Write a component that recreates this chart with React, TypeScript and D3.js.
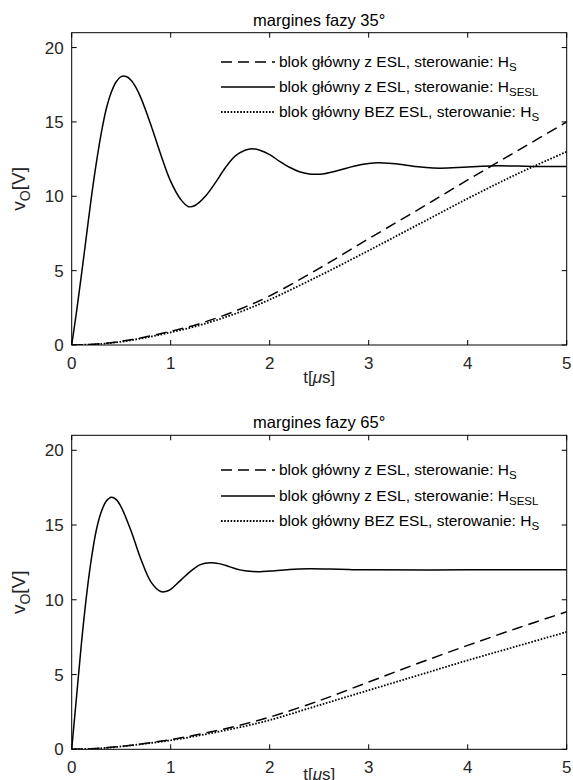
import React from "react";
import * as d3 from "d3";

// ---------- data ----------
const X_TICKS = [0, 1, 2, 3, 4, 5];
const Y_TICKS = [0, 5, 10, 15, 20];
const TITLES = ["margines fazy 35°", "margines fazy 65°"];
const LEGEND_LABELS = [
  { text: "blok główny z ESL, sterowanie: H", sub: "S" },
  { text: "blok główny z ESL, sterowanie: H", sub: "SESL" },
  { text: "blok główny BEZ ESL, sterowanie: H", sub: "S" },
];

// 35° panel
const T_SOLID_35 = [0, 0.05, 0.1, 0.15, 0.2, 0.25, 0.3, 0.35, 0.4, 0.45, 0.5, 0.55, 0.6, 0.65, 0.7, 0.8, 0.9, 1.0, 1.1, 1.18, 1.25, 1.35, 1.45, 1.55, 1.65, 1.75, 1.82, 1.9, 2.0, 2.1, 2.2, 2.3, 2.4, 2.47, 2.55, 2.7, 2.85, 3.0, 3.1, 3.2, 3.35, 3.5, 3.65, 3.8, 3.95, 4.1, 4.3, 4.5, 4.75, 5.0];
const V_SOLID_35 = [0, 2.3, 4.8, 7.4, 10.0, 12.3, 14.3, 15.9, 17.0, 17.7, 18.05, 18.05, 17.8, 17.3, 16.6, 14.8, 12.8, 11.0, 9.8, 9.3, 9.4, 10.0, 10.9, 11.9, 12.7, 13.1, 13.2, 13.1, 12.8, 12.35, 11.95, 11.65, 11.5, 11.48, 11.52, 11.75, 12.02, 12.2, 12.25, 12.22, 12.12, 11.98, 11.9, 11.9, 11.95, 12.0, 12.05, 12.03, 12.0, 12.0];
const T_RAMP = [0, 0.25, 0.5, 0.75, 1, 1.25, 1.5, 1.75, 2, 2.5, 3, 3.5, 4, 4.5, 5];
const V_DASHED_35 = [0, 0.06, 0.25, 0.55, 0.92, 1.35, 1.9, 2.55, 3.3, 5.15, 7.15, 9.1, 11.1, 13.05, 15.0];
const V_DOTTED_35 = [0, 0.05, 0.22, 0.5, 0.85, 1.25, 1.75, 2.35, 3.05, 4.65, 6.35, 8.1, 9.85, 11.5, 13.0];

// 65° panel
const T_SOLID_65 = [0, 0.05, 0.1, 0.15, 0.2, 0.25, 0.3, 0.35, 0.4, 0.45, 0.5, 0.6, 0.7, 0.8, 0.9, 0.95, 1.0, 1.1, 1.2, 1.3, 1.4, 1.5, 1.6, 1.7, 1.8, 1.9, 2.0, 2.2, 2.4, 2.6, 2.8, 3.0, 4.0, 5.0];
const V_SOLID_65 = [0, 3.6, 7.2, 10.3, 12.8, 14.7, 15.9, 16.6, 16.85, 16.7, 16.2, 14.6, 12.7, 11.2, 10.55, 10.55, 10.7, 11.3, 11.9, 12.35, 12.48, 12.4, 12.2, 12.0, 11.9, 11.88, 11.92, 12.03, 12.07, 12.05, 12.02, 12.0, 12.0, 12.0];
const V_DASHED_65 = [0, 0.05, 0.2, 0.4, 0.65, 0.95, 1.3, 1.7, 2.15, 3.25, 4.5, 5.75, 6.95, 8.1, 9.2];
const V_DOTTED_65 = [0, 0.05, 0.19, 0.38, 0.6, 0.88, 1.2, 1.55, 1.95, 2.95, 3.95, 4.95, 5.95, 6.9, 7.85];

// ---------- layout ----------
const W = 573;
const H = 780;
const LEFT = 71.7;
const RIGHT = 566.7;
const FONT = "'Liberation Sans', Arial, Helvetica, sans-serif";

type Series = { t: number[]; v: number[]; dash: string; width: number };

function Panel({ idx, top, bottom, series, title, legendY, xlabY }: {
  idx: number; top: number; bottom: number; series: Series[]; title: string; legendY: number[]; xlabY: number;
}) {
  const x = d3.scaleLinear().domain([0, 5]).range([LEFT, RIGHT]);
  const y = d3.scaleLinear().domain([0, 21]).range([bottom, top]);
  const line = d3
    .line<[number, number]>()
    .x((d) => x(d[0]))
    .y((d) => y(d[1]))
    .curve(d3.curveCatmullRom.alpha(0.5));
  const clipId = `clip${idx}`;
  const tick = 5;
  const midY = (top + bottom) / 2;
  const midX = (LEFT + RIGHT) / 2;
  return (
    <g fontFamily={FONT}>
      <defs>
        <clipPath id={clipId}>
          <rect x={LEFT} y={top} width={RIGHT - LEFT} height={bottom - top} />
        </clipPath>
      </defs>
      <text x={midX} y={top - 7} textAnchor="middle" fontSize={16.5}>{title}</text>
      {/* lines */}
      <g clipPath={`url(#${clipId})`}>
        {series.map((s, i) => (
          <path
            key={i}
            d={line(s.t.map((t, k) => [t, s.v[k]] as [number, number])) || ""}
            fill="none"
            stroke="#000"
            strokeWidth={s.width}
            strokeDasharray={s.dash}
          />
        ))}
      </g>
      {/* box */}
      <rect x={LEFT} y={top} width={RIGHT - LEFT} height={bottom - top} fill="none" stroke="#000" strokeWidth={1} />
      {/* x ticks */}
      {X_TICKS.map((v) => (
        <g key={"x" + v}>
          <line x1={x(v)} x2={x(v)} y1={bottom} y2={bottom - tick} stroke="#000" />
          <line x1={x(v)} x2={x(v)} y1={top} y2={top + tick} stroke="#000" />
          <text x={x(v)} y={bottom + 23.5} textAnchor="middle" fontSize={17} fill="#262626">{v}</text>
        </g>
      ))}
      {/* y ticks */}
      {Y_TICKS.map((v) => (
        <g key={"y" + v}>
          <line x1={LEFT} x2={LEFT + tick} y1={y(v)} y2={y(v)} stroke="#000" />
          <line x1={RIGHT} x2={RIGHT - tick} y1={y(v)} y2={y(v)} stroke="#000" />
          <text x={LEFT - 8} y={y(v) + 6} textAnchor="end" fontSize={17} fill="#262626">{v}</text>
        </g>
      ))}
      {/* axis labels */}
      <text x={midX} y={xlabY} textAnchor="middle" fontSize={17} fill="#262626">
        t[<tspan fontStyle="italic">μ</tspan>s]
      </text>
      <text transform={`translate(25,${midY}) rotate(-90)`} textAnchor="middle" fontSize={19} fill="#262626">
        v<tspan fontSize={14} dy={5}>O</tspan><tspan dy={-5}>[V]</tspan>
      </text>
      {/* legend */}
      {LEGEND_LABELS.map((lab, i) => (
        <g key={"lg" + i}>
          <line
            x1={221}
            x2={275}
            y1={legendY[i]}
            y2={legendY[i]}
            stroke="#000"
            strokeWidth={series[i].width}
            strokeDasharray={series[i].dash}
          />
          <text x={279} y={legendY[i] + 5} fontSize={15.5} fill="#000">
            {lab.text}
            <tspan fontSize={11.5} dy={4}>{lab.sub}</tspan>
          </text>
        </g>
      ))}
    </g>
  );
}

export default function App() {
  const s35: Series[] = [
    { t: T_RAMP, v: V_DASHED_35, dash: "11,6", width: 1.5 },
    { t: T_SOLID_35, v: V_SOLID_35, dash: "", width: 1.5 },
    { t: T_RAMP, v: V_DOTTED_35, dash: "1.6,1.6", width: 1.8 },
  ];
  const s65: Series[] = [
    { t: T_RAMP, v: V_DASHED_65, dash: "11,6", width: 1.5 },
    { t: T_SOLID_65, v: V_SOLID_65, dash: "", width: 1.5 },
    { t: T_RAMP, v: V_DOTTED_65, dash: "1.6,1.6", width: 1.8 },
  ];
  return (
    <svg width={W} height={H} style={{ position: "absolute", left: 0, top: 0, background: "#fff" }}>
      <rect width={W} height={H} fill="#fff" />
      <Panel idx={0} top={32.7} bottom={345} series={s35} title={TITLES[0]} legendY={[62, 87, 112]} xlabY={383} />
      <Panel idx={1} top={435.3} bottom={749.3} series={s65} title={TITLES[1]} legendY={[470, 496, 521]} xlabY={780} />
    </svg>
  );
}
